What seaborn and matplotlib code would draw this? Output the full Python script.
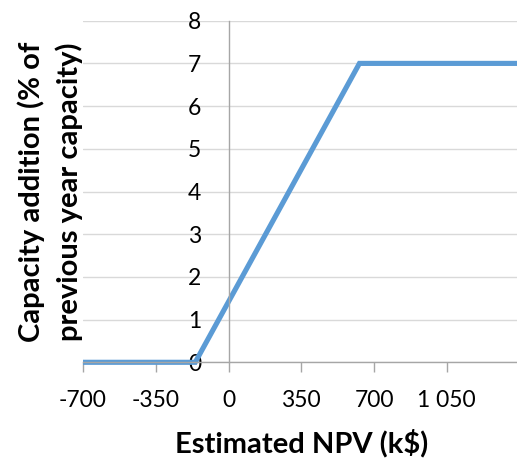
import matplotlib
matplotlib.use("Agg")
import matplotlib.pyplot as plt
import seaborn as sns
import pandas as pd

# values
npv = [-700, -160, 630, 1400]
capacity_add = [0, 0, 7, 7]
x_ticks = [-700, -350, 0, 350, 700, 1050]
x_labels = ["-700", "-350", "0", "350", "700", "1 050"]
y_ticks = [0, 1, 2, 3, 4, 5, 6, 7, 8]

sns.set_theme(style="white")
plt.rcParams["font.family"] = ["Lato", "DejaVu Sans"]
plt.rcParams["axes.labelcolor"] = "black"
plt.rcParams["text.color"] = "black"

df = pd.DataFrame({"npv": npv, "cap": capacity_add})

fig = plt.figure(figsize=(5.17, 4.61), dpi=100)
ax = fig.add_axes([83 / 517, 1 - 362.3 / 461, 436.5 / 517, 341.6 / 461])

sns.lineplot(data=df, x="npv", y="cap", ax=ax, color="#5B9BD5", linewidth=3.7,
             solid_capstyle="butt", solid_joinstyle="miter", clip_on=False)

ax.set_xlim(-700, 1400)
ax.set_ylim(0, 8)
ax.set_xticks(x_ticks)
ax.set_xticklabels(x_labels)
ax.set_yticks(y_ticks)

ax.grid(axis="y", color="#D9D9D9", linewidth=1)
ax.grid(axis="x", visible=False)

for s in ["top", "right"]:
    ax.spines[s].set_visible(False)
ax.spines["left"].set_position(("data", 0))
for s in ["left", "bottom"]:
    ax.spines[s].set_color("#A6A6A6")
    ax.spines[s].set_linewidth(1)

ax.tick_params(axis="x", length=7, width=1, color="#A6A6A6", pad=13,
               labelsize=16.5, labelcolor="black", direction="out", bottom=True)
ax.tick_params(axis="y", length=0, pad=19.5, labelsize=16.5, labelcolor="black")

ax.set_xlabel("Estimated NPV (k$)", fontsize=21, fontweight="bold", color="black")
ax.xaxis.label.set_verticalalignment("baseline")
ax.xaxis.set_label_coords(0.5, (362.3 - 452.7) / 341.6)

ax.set_ylabel("Capacity addition (% of\nprevious year capacity)", fontsize=21,
              fontweight="bold", linespacing=1.45, color="black")
ax.yaxis.label.set_verticalalignment("center")
ax.yaxis.set_label_coords((50.5 - 83) / 436.5, 0.5)

fig.savefig("out.png", dpi=100)
